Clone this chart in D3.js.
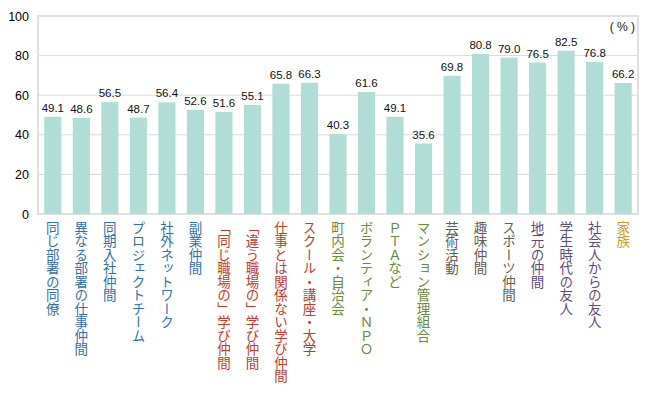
<!DOCTYPE html>
<html>
<head>
<meta charset="utf-8">
<script src="https://cdn.jsdelivr.net/npm/d3@7"></script>
<style>
  html, body { margin: 0; padding: 0; background: #fff; }
  svg { display: block; }
</style>
</head>
<body>
<div id="chart"></div>
<script>
// --- data ---
const categories = [
  "同じ部署の同僚", "異なる部署の仕事仲間", "同期入社仲間", "プロジェクトチーム", "社外ネットワーク", "副業仲間",
  "「同じ職場の」学び仲間", "「違う職場の」学び仲間", "仕事とは関係ない学び仲間", "スクール・講座・大学",
  "町内会・自治会", "ボランティア・ＮＰＯ", "ＰＴＡなど", "マンション管理組合",
  "芸術活動", "趣味仲間", "スポーツ仲間",
  "地元の仲間", "学生時代の友人", "社会人からの友人",
  "家族"
];
const values = [49.1, 48.6, 56.5, 48.7, 56.4, 52.6, 51.6, 55.1, 65.8, 66.3,
                40.3, 61.6, 49.1, 35.6, 69.8, 80.8, 79.0, 76.5, 82.5, 76.8, 66.2];
const groups = ["work", "work", "work", "work", "work", "work",
                "learn", "learn", "learn", "learn",
                "local", "local", "local", "local",
                "hobby", "hobby", "hobby",
                "friend", "friend", "friend",
                "family"];
const yTicks = [0, 20, 40, 60, 80, 100];

// --- layout ---
const W = 648, H = 398;
const plotL = 38, plotR = 638, plotT = 16, plotB = 214;
const groupColor = {
  work: "#3470a8", learn: "#c23a2c", local: "#6a8a3c",
  hobby: "#5e5e56", friend: "#5c4b7e", family: "#d49a22"
};

const svg = d3.select("#chart").append("svg")
  .attr("width", W)
  .attr("height", H);

const x = d3.scaleBand()
  .domain(categories)
  .range([plotL, plotR])
  .paddingInner(0.4)
  .paddingOuter(0.22);

const y = d3.scaleLinear()
  .domain([0, 100])
  .range([plotB, plotT]);

// gridlines
svg.append("g")
  .selectAll("line")
  .data(yTicks.filter(t => t > 0 && t < 100))
  .join("line")
  .attr("x1", plotL).attr("x2", plotR)
  .attr("y1", d => y(d)).attr("y2", d => y(d))
  .attr("stroke", "#d9d9d9")
  .attr("stroke-width", 1);

// plot frame
svg.append("rect")
  .attr("x", plotL).attr("y", y(100))
  .attr("width", plotR - plotL).attr("height", y(0) - y(100))
  .attr("fill", "none")
  .attr("stroke", "#e0e0e0")
  .attr("stroke-width", 2);

// y axis labels
const yAxis = d3.axisLeft(y).tickValues(yTicks).tickSize(0).tickPadding(9);
svg.append("g")
  .attr("transform", `translate(${plotL},0)`)
  .call(yAxis)
  .call(g => g.select(".domain").remove())
  .selectAll("text")
  .attr("fill", "#000")
  .style("font-family", "'Liberation Sans', Arial, sans-serif")
  .style("font-size", "12.5px");

// bars
svg.append("g")
  .selectAll("rect")
  .data(values)
  .join("rect")
  .attr("x", (d, i) => x(categories[i]))
  .attr("y", d => y(d))
  .attr("width", x.bandwidth())
  .attr("height", d => y(0) - y(d))
  .attr("fill", "#b0ddd5");

// value labels
svg.append("g")
  .selectAll("text")
  .data(values)
  .join("text")
  .attr("x", (d, i) => x(categories[i]) + x.bandwidth() / 2)
  .attr("y", d => y(d) - 5)
  .attr("text-anchor", "middle")
  .attr("fill", "#111")
  .style("font-family", "'Liberation Sans Narrow', 'Arial Narrow', sans-serif")
  .style("font-size", "11.5px")
  .text(d => d.toFixed(1));

// unit
svg.append("text")
  .attr("x", 635)
  .attr("y", 31)
  .attr("text-anchor", "end")
  .attr("fill", "#222")
  .style("font-family", "'Liberation Sans', Arial, sans-serif")
  .style("font-size", "12px")
  .text("( % )");

// vertical category labels
svg.append("g")
  .selectAll("text")
  .data(categories)
  .join("text")
  .attr("x", d => x(d) + x.bandwidth() / 2)
  .attr("y", 221)
  .attr("fill", (d, i) => groupColor[groups[i]])
  .style("writing-mode", "vertical-rl")
  .style("text-orientation", "mixed")
  .style("font-family", "'Noto Sans CJK JP', sans-serif")
  .style("font-size", "13.5px")
  .text(d => d);
</script>
</body>
</html>
